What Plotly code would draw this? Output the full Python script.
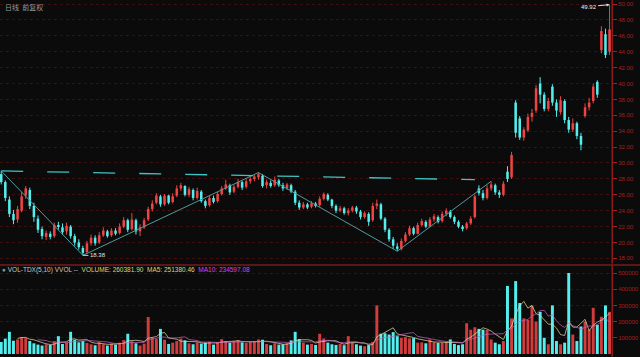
import plotly.graph_objects as go
import pandas as pd

# ---------------- data ----------------
open_ = [28.6,27.6,25.4,23.6,22.9,24.0,25.9,26.6,24.6,23.0,
         21.7,20.7,21.1,20.8,22.2,21.9,21.4,22.0,20.8,20.0,
         19.3,18.8,19.9,20.6,20.0,20.9,21.4,20.9,21.5,21.2,
         22.0,22.8,21.7,22.8,21.4,21.9,22.9,24.2,25.0,25.8,
         24.8,25.9,25.1,25.9,26.8,27.1,26.0,26.6,25.6,26.4,
         25.2,24.7,25.6,25.2,26.1,26.8,27.2,26.4,27.0,27.6,
         27.0,27.7,28.0,28.2,28.4,27.2,27.5,27.2,27.8,27.2,
         26.8,27.2,26.4,25.0,24.4,24.8,24.5,24.9,24.7,25.5,
         26.0,25.4,24.6,24.0,24.3,23.7,24.0,24.4,23.9,23.2,
         23.6,22.8,24.6,24.8,23.0,21.6,20.4,19.5,19.2,20.2,
         21.0,21.8,21.1,22.2,22.6,22.0,22.9,23.2,22.7,23.6,
         23.9,23.2,22.6,22.0,21.8,22.4,23.2,26.8,26.2,25.6,
         26.8,27.2,26.3,26.0,28.9,28.2,37.6,35.6,33.2,34.1,
         35.8,36.6,40.0,38.6,36.8,39.6,37.6,36.4,37.8,35.4,
         34.2,35.0,33.4,35.9,37.0,37.8,40.2,44.2,46.2,44.0]
high = [29.0,27.8,25.8,24.1,24.6,26.4,27.1,26.9,25.0,23.4,
        22.0,21.5,21.4,22.5,22.6,22.4,22.5,22.2,21.1,20.4,
        19.6,20.2,21.0,20.9,21.3,21.9,21.6,21.8,21.8,22.4,
        23.2,23.0,23.7,23.0,22.3,23.1,24.5,25.3,26.2,26.0,
        26.1,26.0,26.2,27.2,27.5,27.2,27.0,26.8,26.9,26.6,
        25.4,25.9,25.9,26.4,27.1,27.9,27.4,27.3,28.0,27.8,
        28.1,28.3,28.5,28.8,28.6,27.9,27.8,28.3,28.0,27.5,
        27.5,27.4,26.6,25.3,25.1,25.0,25.2,25.1,25.8,26.3,
        26.2,25.5,24.8,24.6,24.5,24.3,24.6,24.6,24.1,23.9,
        23.8,25.0,25.4,25.0,23.2,21.8,20.7,19.9,20.5,21.3,
        22.1,22.0,22.5,23.0,22.8,23.2,23.6,23.4,23.9,24.3,
        24.1,23.4,22.8,22.2,22.6,23.3,26.0,27.2,26.6,27.2,
        27.7,27.4,26.6,27.7,29.6,31.4,37.9,35.9,34.5,36.2,
        36.8,39.8,40.8,38.9,38.2,39.9,38.0,38.4,38.0,35.8,
        35.6,35.2,33.8,37.5,38.2,40.0,40.4,47.2,46.9,49.92]
low = [27.3,25.2,23.2,22.3,22.5,23.8,25.5,24.2,22.6,21.2,
       20.4,20.3,20.4,20.6,21.6,21.0,21.0,20.5,19.6,19.1,
       18.38,18.6,19.6,19.6,19.8,20.7,20.6,20.7,20.9,21.0,
       21.8,21.3,21.5,21.0,20.8,21.7,22.7,23.9,24.8,24.5,
       24.6,24.8,24.9,25.7,26.5,25.8,25.7,25.3,25.4,25.0,
       24.3,24.5,24.9,25.0,25.9,26.6,26.0,26.2,26.8,26.6,
       26.8,27.4,27.7,27.9,26.9,26.8,26.9,27.0,27.0,26.5,
       26.6,26.2,24.7,24.1,24.2,24.2,24.3,24.4,24.5,25.3,
       25.2,24.3,23.7,23.8,23.5,23.4,23.8,23.6,22.9,23.0,
       22.1,22.6,24.2,22.8,21.3,20.1,19.2,18.9,19.0,20.0,
       20.8,20.9,21.0,22.0,21.8,21.9,22.6,22.4,22.5,23.3,
       23.0,22.3,21.8,21.4,21.6,22.2,23.0,25.9,25.3,25.4,
       26.5,26.0,25.6,25.8,27.6,28.0,33.2,32.9,32.8,33.9,
       35.2,36.3,37.5,36.5,36.5,37.2,35.8,36.1,35.0,33.8,
       33.9,33.0,31.6,35.7,36.6,37.5,38.2,43.8,43.2,43.6]
close = [27.6,25.6,23.6,22.8,24.2,25.8,26.8,24.6,23.2,21.6,
         20.8,21.2,20.7,22.2,22.0,21.3,22.1,20.8,20.0,19.4,
         18.7,19.9,20.6,19.9,20.9,21.5,20.8,21.5,21.1,22.0,
         22.8,21.6,22.9,21.4,21.9,22.8,24.2,24.9,25.9,24.8,
         25.9,25.0,25.8,26.8,27.2,26.0,26.7,25.6,26.5,25.2,
         24.6,25.6,25.1,26.1,26.8,27.3,26.3,27.0,27.6,26.9,
         27.7,28.0,28.3,28.6,27.1,27.6,27.1,27.9,27.2,26.8,
         27.3,26.4,25.0,24.4,24.8,24.4,24.9,24.7,25.5,26.1,
         25.4,24.6,24.0,24.3,23.7,24.0,24.4,23.9,23.2,23.7,
         22.6,24.6,24.9,23.0,21.6,20.4,19.6,19.2,20.2,21.0,
         21.8,21.1,22.2,22.7,22.0,22.9,23.3,22.6,23.6,24.0,
         23.2,22.6,22.0,21.7,22.4,23.0,25.8,26.2,25.6,26.8,
         27.3,26.3,26.0,27.4,28.0,31.0,33.8,33.2,34.2,35.8,
         36.3,39.4,38.6,36.8,37.8,37.6,36.6,37.9,35.4,34.2,
         35.0,33.4,32.3,37.0,37.6,39.6,38.6,46.6,43.6,46.8]
volume = [74000,95000,137000,82000,90000,105000,98000,80000,66000,58000,
          52000,60000,56000,78000,110000,62000,70000,137000,88000,72000,
          80000,68000,60000,54000,72000,60000,52000,64000,58000,70000,
          86000,125000,78000,66000,52000,64000,228000,100000,92000,155000,
          88000,62000,70000,80000,96000,84000,66000,60000,72000,64000,
          70000,76000,58000,72000,92000,80000,70000,78000,86000,72000,
          68000,74000,80000,90000,88000,62000,54000,66000,58000,60000,
          66000,84000,137000,92000,70000,58000,62000,56000,125000,96000,
          70000,60000,56000,62000,54000,110000,70000,60000,52000,48000,
          55000,75000,300000,125000,128000,120000,135000,110000,100000,104000,
          96000,98000,70000,72000,66000,90000,72000,68000,70000,74000,
          90000,62000,55000,60000,190000,150000,165000,155000,150000,148000,
          90000,70000,60000,80000,420000,220000,450000,315000,220000,210000,
          300000,200000,260000,100000,60000,300000,80000,60000,70000,500000,
          120000,80000,170000,200000,150000,285000,180000,230000,300000,260381.9]

price_ticks = [18,20,22,24,26,28,30,32,34,36,38,40,42,44,46,48,50]
price_labels = ["%.2f" % v for v in price_ticks]
vol_ticks = [100000,200000,300000,400000,500000]
vol_labels = ["100000","200000","300000","400000","500000"]

zigzag_idx = [0, 20, 63, 97, 120]
zigzag_kind = ["H", "L", "H", "L", "H"]
neck_idx = [0, 116]
neck_price = [29.0, 27.9]

legend_vals = {"VOLUME": "260381.90", "MA5": "251380.46", "MA10": "234597.08"}

# ---------------- styling ----------------
BG = "#0b0b0b"
UP = "#f04444"
DN = "#54eeee"
VUP = "#d23c3c"
AXC = "#a81e1e"
GRID = "#3c1010"
FONT = "Liberation Sans"

n = len(close)
idx = list(range(n))
is_up = [close[i] >= open_[i] for i in idx]

body_base = [min(open_[i], close[i]) for i in idx]
body_h = [max(abs(close[i] - open_[i]), 0.06) for i in idx]
body_col = [UP if u else DN for u in is_up]
vol_col = [VUP if u else DN for u in is_up]

fig = go.Figure()

# wicks
for flag, col in [(True, UP), (False, DN)]:
    wx, wy = [], []
    for i in idx:
        if is_up[i] == flag:
            wx += [i, i, None]
            wy += [low[i], high[i], None]
    fig.add_trace(go.Scatter(x=wx, y=wy, mode="lines", line=dict(color=col, width=1),
                             hoverinfo="skip", xaxis="x", yaxis="y"))

# bodies
fig.add_trace(go.Bar(x=idx, y=body_h, base=body_base, width=0.62,
                     marker=dict(color=body_col, line=dict(width=0)),
                     xaxis="x", yaxis="y"))

# zigzag trend lines
zx = zigzag_idx
zy = [high[i] if k == "H" else low[i] for i, k in zip(zigzag_idx, zigzag_kind)]
fig.add_trace(go.Scatter(x=zx, y=zy, mode="lines", line=dict(color="#4f9c9c", width=1),
                         xaxis="x", yaxis="y"))
# neckline
fig.add_trace(go.Scatter(x=neck_idx, y=neck_price, mode="lines",
                         line=dict(color="#3fc4c4", width=1.3, dash="22px,24px"),
                         xaxis="x", yaxis="y"))

# volume
fig.add_trace(go.Bar(x=idx, y=volume, width=0.72,
                     marker=dict(color=vol_col, line=dict(width=0)),
                     xaxis="x", yaxis="y2"))
vs = pd.Series(volume)
ma5 = vs.rolling(5).mean()
ma10 = vs.rolling(10).mean()
fig.add_trace(go.Scatter(x=idx, y=ma5, mode="lines", line=dict(color="#e6e6a6", width=0.7),
                         xaxis="x", yaxis="y2"))
fig.add_trace(go.Scatter(x=idx, y=ma10, mode="lines", line=dict(color="#c860c8", width=0.7),
                         xaxis="x", yaxis="y2"))

H = 357.0
fig.update_layout(
    width=640, height=357,
    margin=dict(l=0, r=28, t=0, b=0),
    paper_bgcolor=BG, plot_bgcolor=BG,
    showlegend=False, barmode="overlay",
    font=dict(family=FONT, color=AXC, size=6),
    xaxis=dict(range=[-0.3, 149.6], showticklabels=False, showgrid=False,
               zeroline=False, showline=False, ticks="", anchor="y2"),
    yaxis=dict(domain=[1 - 263 / H, 1], range=[17.42, 50.503], side="right",
               tickvals=price_ticks, ticktext=price_labels,
               ticks="outside", ticklen=4, tickcolor=AXC,
               tickfont=dict(size=6, color=AXC, family=FONT),
               showgrid=True, gridcolor=GRID, griddash="dot", gridwidth=1,
               zeroline=False, showline=True, linecolor="#8c1a1a", linewidth=1),
    yaxis2=dict(domain=[1 / H, 91 / H], range=[-12346, 543210], side="right",
                tickvals=vol_ticks, ticktext=vol_labels,
                ticks="outside", ticklen=4, tickcolor=AXC,
                tickfont=dict(size=6, color=AXC, family=FONT),
                showgrid=True, gridcolor=GRID, griddash="dot", gridwidth=1,
                zeroline=False, showline=True, linecolor="#8c1a1a", linewidth=1),
)

# separator line between panels and right border
fig.add_shape(type="line", xref="paper", yref="paper", x0=0, x1=1.05,
              y0=(H - 265) / H, y1=(H - 265) / H, line=dict(color="#b02020", width=1.2))
fig.add_shape(type="line", xref="paper", yref="paper", x0=1, x1=1,
              y0=0, y1=1, line=dict(color="#8c1a1a", width=1))

legend_text = ("<span style='color:#8a8a8a'>●</span> "
               "<span style='color:#c8c8c8'>VOL-TDX(5,10) VVOL --</span>  "
               "<span style='color:#d8d878'>VOLUME: %s  MA5: %s</span>  "
               "<span style='color:#e040e0'>MA10: %s</span>") % (
    legend_vals["VOLUME"], legend_vals["MA5"], legend_vals["MA10"])

fig.add_annotation(text=legend_text, xref="paper", yref="paper", x=0, y=(H - 270) / H,
                   xanchor="left", yanchor="middle", showarrow=False,
                   font=dict(size=6.5, family=FONT))
fig.add_annotation(text="日线  前复权", xref="paper", yref="paper", x=0.005, y=1,
                   xanchor="left", yanchor="top", yshift=0, showarrow=False,
                   font=dict(size=7, color="#9a9a9a", family="Noto Sans CJK SC"))

lo_i = low.index(min(low))
hi_i = high.index(max(high))
fig.add_annotation(x=lo_i, y=low[lo_i], xref="x", yref="y", text="%.2f" % low[lo_i],
                   showarrow=True, ax=15, ay=0, arrowhead=0, arrowwidth=1,
                   arrowcolor="#cccccc", font=dict(size=6, color="#e0e0e0", family=FONT))
fig.add_annotation(x=hi_i, y=high[hi_i], xref="x", yref="y", text="%.2f" % high[hi_i],
                   showarrow=True, ax=-21, ay=2, arrowhead=2, arrowsize=0.6, arrowwidth=1,
                   arrowcolor="#dddddd", font=dict(size=6, color="#f0f0f0", family=FONT))

fig.write_html("out.html", config={"displayModeBar": False})
